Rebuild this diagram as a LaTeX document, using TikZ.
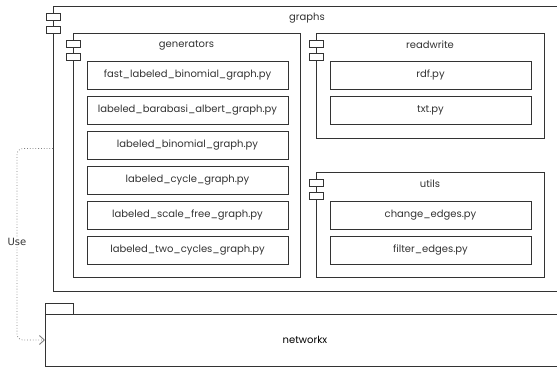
\documentclass[tikz,border=0pt]{standalone}
\usepackage{fontspec}
\setmainfont{Poppins}
\newfontfamily\uselabelfont{DejaVu Sans}
\usetikzlibrary{arrows.meta,positioning,calc}

\definecolor{linegray}{HTML}{333333}
\definecolor{textgray}{HTML}{333333}
\definecolor{dotgray}{HTML}{808080}

\tikzset{
  pkg/.style={draw=linegray, line width=0.9pt, anchor=north west, inner sep=0pt, outer sep=0pt},
  pyfile/.style={draw=linegray, line width=0.9pt, minimum width=201pt, minimum height=28pt,
    inner sep=0pt, outer sep=0pt, font=\fontsize{10}{12}\selectfont, text=textgray},
  pkgtitle/.style={font=\fontsize{10}{12}\selectfont, text=textgray},
  icon/.style={draw=linegray, fill=white, line width=0.8pt},
  usearrow/.style={draw=dotgray, dotted, line width=0.8pt, rounded corners=6pt,
    -{Straight Barb[length=5pt,width=9pt,line width=0.9pt]}},
}

% two little component boxes on the left edge of a package
\newcommand{\pkgicons}[1]{%
  \draw[icon] ($(#1.north west)+(-7pt,-7pt)$) rectangle ++(14pt,-7pt);
  \draw[icon] ($(#1.north west)+(-7pt,-20pt)$) rectangle ++(14pt,-7pt);
}

\begin{document}
\begin{tikzpicture}[x=1pt, y=-1pt, node distance=7pt]
  \useasboundingbox (0,0) rectangle (557,367);
  \clip (0,0) rectangle (557,367);

  % graphs package
  \node[pkg, minimum width=508pt, minimum height=285pt] (graphs) at (53,6) {};
  \node[pkgtitle] (graphs-title) at ($(graphs.north)+(0,-12pt)$) {graphs};
  \pkgicons{graphs}

  % generators
  \node[pkg, minimum width=227pt, minimum height=244pt] (gen) at (73,33) {};
  \node[pkgtitle] (gen-title) at ($(gen.north)+(0,-12pt)$) {generators};
  \pkgicons{gen}
  \node[pyfile, anchor=north west] (fastbin) at (87,61) {fast\_labeled\_binomial\_graph.py};
  \node[pyfile, below=of fastbin] (barabasi) {labeled\_barabasi\_albert\_graph.py};
  \node[pyfile, below=of barabasi] (binomial) {labeled\_binomial\_graph.py};
  \node[pyfile, below=of binomial] (cycle) {labeled\_cycle\_graph.py};
  \node[pyfile, below=of cycle] (scalefree) {labeled\_scale\_free\_graph.py};
  \node[pyfile, below=of scalefree] (twocycles) {labeled\_two\_cycles\_graph.py};

  % readwrite
  \node[pkg, minimum width=228pt, minimum height=105pt] (rw) at (316,33) {};
  \node[pkgtitle] (rw-title) at ($(rw.north)+(0,-12pt)$) {readwrite};
  \pkgicons{rw}
  \node[pyfile, anchor=north west] (rdf) at (330,61) {rdf.py};
  \node[pyfile, below=of rdf] (txt) {txt.py};

  % utils
  \node[pkg, minimum width=228pt, minimum height=105pt] (utils) at (316,172) {};
  \node[pkgtitle] (utils-title) at ($(utils.north)+(0,-12pt)$) {utils};
  \pkgicons{utils}
  \node[pyfile, anchor=north west] (change) at (330,201) {change\_edges.py};
  \node[pyfile, below=of change] (filter) {filter\_edges.py};

  % networkx package
  \node[pkg, minimum width=28pt, minimum height=11pt] (nx-tab) at (45,303) {};
  \node[pkg, minimum width=520pt, minimum height=52pt, font=\fontsize{10}{12}\selectfont] (nx) at (45,314) {networkx};

  % use dependency
  \coordinate (use-bend) at (17,242);
  \draw[usearrow] (graphs.west) -| (use-bend) |- (nx.west);
  \node[fill=white, inner sep=1pt, text=textgray, font=\uselabelfont\fontsize{10}{12}\selectfont] (use-label) at (use-bend) {Use};
\end{tikzpicture}
\end{document}
